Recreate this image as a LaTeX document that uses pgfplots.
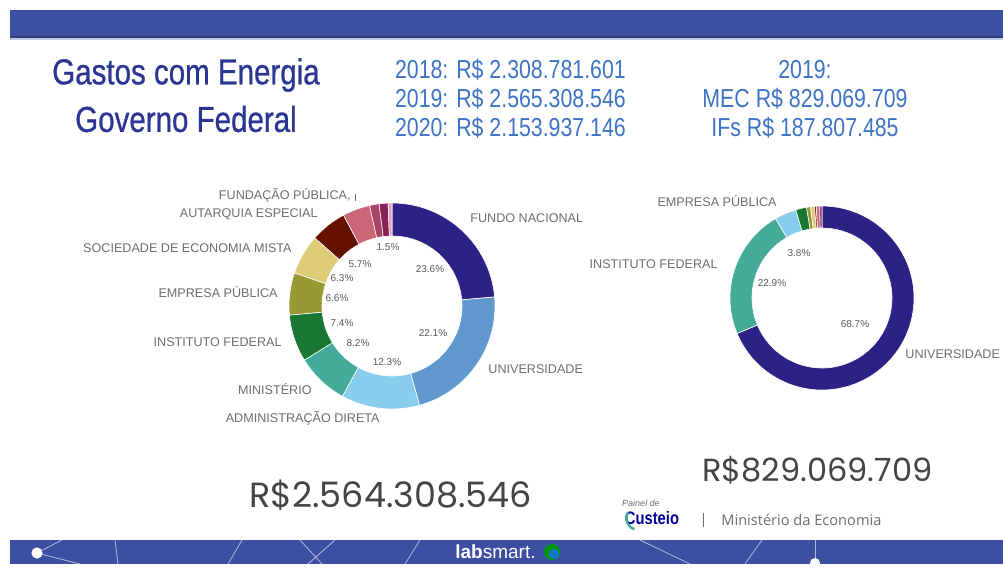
\documentclass[border=0pt]{standalone}
\usepackage{fontspec}
\setmainfont{Liberation Sans}
\newfontfamily\cond[FakeStretch=0.82]{Liberation Sans}
\newfontfamily\condb[FakeStretch=0.82, FakeBold=0.7]{Liberation Sans}
\newfontfamily\pop{Poppins}
\newfontfamily\opens{Open Sans}
\usepackage{pgfplots}
\pgfplotsset{compat=1.18}
\usetikzlibrary{calc}

\definecolor{band}{HTML}{3D4FA3}
\definecolor{titleblue}{HTML}{2B3592}
\definecolor{numblue}{HTML}{3E74C6}
\definecolor{lblgrey}{HTML}{6E6E6E}
\definecolor{pctgrey}{HTML}{5A5A5A}
\definecolor{biggrey}{HTML}{444444}
\definecolor{cnavy}{HTML}{2E2185}
\definecolor{cblue}{HTML}{6198CD}
\definecolor{clight}{HTML}{88CCEE}
\definecolor{cteal}{HTML}{44AA99}
\definecolor{cgreen}{HTML}{177733}
\definecolor{colive}{HTML}{999933}
\definecolor{cyellow}{HTML}{DDCC77}
\definecolor{cdred}{HTML}{661100}
\definecolor{cpink}{HTML}{CC6677}
\definecolor{cmauve}{HTML}{AA4466}
\definecolor{cmag}{HTML}{882255}
\definecolor{clpink}{HTML}{E8A0B8}

\newcommand\fs[1]{\fontsize{#1}{#1}\selectfont}
% ring slice: cx, cy, outer r, inner r, from %, to %, colour
\newcommand\dslice[7]{%
  \fill[#7, draw=white, line width=0.3pt]
    ($(axis cs:#1,#2)+({90-3.6*#5}:#3)$)
    arc[start angle={90-3.6*#5}, end angle={90-3.6*#6}, radius=#3]
    -- ($(axis cs:#1,#2)+({90-3.6*#6}:#4)$)
    arc[start angle={90-3.6*#6}, end angle={90-3.6*#5}, radius=#4] -- cycle;}

\begin{document}
\begin{tikzpicture}
\begin{axis}[
  at={(0,0)}, anchor=south west,
  width=501.5pt, height=282pt, scale only axis,
  xmin=0, xmax=1003, ymin=0, ymax=564, y dir=reverse,
  hide axis, clip=false]

\fill[white] (axis cs:0,0) rectangle (axis cs:1003,564);

% top and bottom bands
\fill[band] (axis cs:10,10) rectangle (axis cs:1003,36);
\fill[band!80!black] (axis cs:10,36) rectangle (axis cs:1003,38);
\fill[band!30] (axis cs:10,38) rectangle (axis cs:1003,40);
\fill[band] (axis cs:10,540) rectangle (axis cs:1003,564);
\begin{scope}[white, opacity=0.6, line width=0.4pt]
\draw (axis cs:37,553) -- (axis cs:62,540);
\draw (axis cs:37,553) -- (axis cs:80,564);
\draw (axis cs:115,540) -- (axis cs:118,564);
\draw (axis cs:242,540) -- (axis cs:228,564);
\draw (axis cs:300,540) -- (axis cs:322,564);
\draw (axis cs:335,540) -- (axis cs:308,564);
\draw (axis cs:420,540) -- (axis cs:405,564);
\draw (axis cs:640,540) -- (axis cs:690,564);
\draw (axis cs:762,540) -- (axis cs:745,564);
\draw (axis cs:815,540) -- (axis cs:815,564);
\end{scope}
\fill[white] (axis cs:37,553) circle[radius=2.8pt];
\fill[white] (axis cs:815,563) circle[radius=2.5pt];
\node[anchor=west, text=white, font=\fs{9.5}, inner sep=0pt] at (axis cs:455,552) {\bfseries lab\mdseries smart.};
\fill[green!60!black] (axis cs:552,552) circle[radius=4pt];
\fill[cyan!60!blue] (axis cs:554,554) circle[radius=2.6pt];

% titles
\node[font=\condb\fs{18}, text=titleblue] at (axis cs:186,75) {Gastos com Energia};
\node[font=\condb\fs{18}, text=titleblue] at (axis cs:186,119) {Governo Federal};
\node[anchor=west, font=\cond\fs{13}, text=numblue] at (axis cs:388,70) {2018: R\$ 2.308.781.601};
\node[anchor=west, font=\cond\fs{13}, text=numblue] at (axis cs:388,99) {2019: R\$ 2.565.308.546};
\node[anchor=west, font=\cond\fs{13}, text=numblue] at (axis cs:388,128) {2020: R\$ 2.153.937.146};
\node[font=\cond\fs{13}, text=numblue] at (axis cs:805,70) {2019:};
\node[font=\cond\fs{13}, text=numblue] at (axis cs:805,99) {MEC R\$ 829.069.709};
\node[font=\cond\fs{13}, text=numblue] at (axis cs:805,128) {IFs R\$ 187.807.485};

% left donut (total spending by type of body)
\dslice{392}{306}{51.5pt}{35pt}{0}{23.6}{cnavy}
\dslice{392}{306}{51.5pt}{35pt}{23.6}{45.7}{cblue}
\dslice{392}{306}{51.5pt}{35pt}{45.7}{58.0}{clight}
\dslice{392}{306}{51.5pt}{35pt}{58.0}{66.2}{cteal}
\dslice{392}{306}{51.5pt}{35pt}{66.2}{73.6}{cgreen}
\dslice{392}{306}{51.5pt}{35pt}{73.6}{80.2}{colive}
\dslice{392}{306}{51.5pt}{35pt}{80.2}{86.5}{cyellow}
\dslice{392}{306}{51.5pt}{35pt}{86.5}{92.2}{cdred}
\dslice{392}{306}{51.5pt}{35pt}{92.2}{96.5}{cpink}
\dslice{392}{306}{51.5pt}{35pt}{96.5}{98.0}{cmauve}
\dslice{392}{306}{51.5pt}{35pt}{98.0}{99.4}{cmag}
\dslice{392}{306}{51.5pt}{35pt}{99.4}{100}{clpink}

\begin{scope}[every node/.style={font=\fs{6.3}, text=lblgrey, inner sep=0pt}]
\node[anchor=east] at (axis cs:351,195) {FUNDAÇÃO PÚBLICA,};
\node[anchor=east] at (axis cs:318,214) {AUTARQUIA ESPECIAL};
\node[anchor=east] at (axis cs:292,248) {SOCIEDADE DE ECONOMIA MISTA};
\node[anchor=east] at (axis cs:278,292) {EMPRESA PÚBLICA};
\node[anchor=east] at (axis cs:282,342) {INSTITUTO FEDERAL};
\node[anchor=east] at (axis cs:312,389) {MINISTÉRIO};
\node[anchor=east] at (axis cs:380,418) {ADMINISTRAÇÃO DIRETA};
\node[anchor=west] at (axis cs:470,218) {FUNDO NACIONAL};
\node[anchor=west] at (axis cs:488,369) {UNIVERSIDADE};
\node[anchor=east] at (axis cs:777,201) {EMPRESA PÚBLICA};
\node[anchor=east] at (axis cs:718,264) {INSTITUTO FEDERAL};
\node[anchor=west] at (axis cs:905,354) {UNIVERSIDADE};
\end{scope}
\draw[lblgrey, line width=0.3pt] (axis cs:355,194) -- (axis cs:355,201);

\begin{scope}[every node/.style={font=\fs{5}, text=pctgrey, inner sep=0pt}]
\node at (axis cs:388,247) {1.5\%};
\node at (axis cs:360,264) {5.7\%};
\node at (axis cs:342,278) {6.3\%};
\node at (axis cs:337,298) {6.6\%};
\node at (axis cs:342,323) {7.4\%};
\node at (axis cs:358,343) {8.2\%};
\node at (axis cs:387,362) {12.3\%};
\node at (axis cs:433,333) {22.1\%};
\node at (axis cs:430,269) {23.6\%};
\node at (axis cs:799,253) {3.8\%};
\node at (axis cs:772,283) {22.9\%};
\node at (axis cs:855,324) {68.7\%};
\end{scope}

% right donut (MEC)
\dslice{822}{298}{46pt}{35pt}{0}{68.7}{cnavy}
\dslice{822}{298}{46pt}{35pt}{68.7}{91.6}{cteal}
\dslice{822}{298}{46pt}{35pt}{91.6}{95.4}{clight}
\dslice{822}{298}{46pt}{35pt}{95.4}{97.3}{cgreen}
\dslice{822}{298}{46pt}{35pt}{97.3}{98.0}{colive}
\dslice{822}{298}{46pt}{35pt}{98.0}{98.7}{cyellow}
\dslice{822}{298}{46pt}{35pt}{98.7}{99.0}{cdred}
\dslice{822}{298}{46pt}{35pt}{99.0}{99.6}{cpink}
\dslice{822}{298}{46pt}{35pt}{99.6}{100}{cmag}

% totals and footer
\node[anchor=west, font=\pop\fs{17.5}, text=biggrey, inner sep=0pt] at (axis cs:249,495) {R\$2.564.308.546};
\node[anchor=west, font=\pop\fs{16}, text=biggrey, inner sep=0pt] at (axis cs:702,470) {R\$829.069.709};
\node[font=\itshape\fs{4.5}, text=lblgrey] at (axis cs:641,503) {Painel de};
\node[font=\bfseries\cond\fs{9}, text=blue!60!black] at (axis cs:652,518) {Custeio};
\draw[cteal, line width=1.2pt] (axis cs:628,512) arc[start angle=150, end angle=250, radius=6pt];
\draw[lblgrey, line width=0.4pt] (axis cs:703,513) -- (axis cs:703,527);
\node[anchor=west, font=\opens\fs{7.3}, text=lblgrey, inner sep=0pt] at (axis cs:721,520) {Ministério da Economia};
\end{axis}
\end{tikzpicture}
\end{document}
